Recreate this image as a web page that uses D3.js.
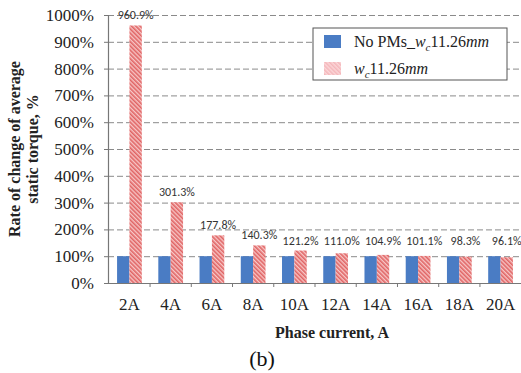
<!DOCTYPE html>
<html>
<head>
<meta charset="utf-8">
<script src="https://cdn.jsdelivr.net/npm/d3@7"></script>
<style>
  body { margin: 0; background: #fff; }
  svg { display: block; }
  .serif { font-family: "Liberation Serif", "DejaVu Serif", serif; }
  .sans { font-family: Carlito, "Open Sans", "Liberation Sans", sans-serif; }
</style>
</head>
<body>
<div class="container"></div>
<script>
// phase currents and the two series (percent)
const currents = ["2A", "4A", "6A", "8A", "10A", "12A", "14A", "16A", "18A", "20A"];
const noPMs = [100, 100, 100, 100, 100, 100, 100, 100, 100, 100];
const withPMs = [960.9, 301.3, 177.8, 140.3, 121.2, 111.0, 104.9, 101.1, 98.3, 96.1];
const yTicks = [0, 100, 200, 300, 400, 500, 600, 700, 800, 900, 1000];

const width = 521;
const height = 373;
const margin = { top: 15, right: -1, bottom: 90, left: 108 };

const svg = d3.select(".container")
    .append("svg")
    .attr("width", width)
    .attr("height", height);

const defs = svg.append("defs");
const hatch = defs.append("pattern")
    .attr("id", "hatch")
    .attr("patternUnits", "userSpaceOnUse")
    .attr("width", 3)
    .attr("height", 3)
    .attr("patternTransform", "rotate(-45)");
hatch.append("rect").attr("width", 3).attr("height", 3).attr("fill", "#f7c6c6");
hatch.append("rect").attr("width", 1.6).attr("height", 3).attr("fill", "#e06464");

const legendHatch = defs.append("pattern")
    .attr("id", "hatchLight")
    .attr("patternUnits", "userSpaceOnUse")
    .attr("width", 3)
    .attr("height", 3)
    .attr("patternTransform", "rotate(-45)");
legendHatch.append("rect").attr("width", 3).attr("height", 3).attr("fill", "#fbd6d8");
legendHatch.append("rect").attr("width", 1.5).attr("height", 3).attr("fill", "#f4b6ba");

const x = d3.scaleBand()
    .domain(currents)
    .range([margin.left, width - margin.right])
    .paddingInner(0.4)
    .paddingOuter(0.22);

const sub = d3.scaleBand()
    .domain(["no", "with"])
    .range([0, x.bandwidth()]);

const y = d3.scaleLinear()
    .domain([0, 1000])
    .range([height - margin.bottom, margin.top]);

// dashed gridlines
svg.append("g")
    .selectAll("line")
    .data(yTicks.slice(1))
    .enter()
    .append("line")
    .attr("x1", margin.left)
    .attr("x2", width)
    .attr("y1", (d) => y(d) + 0.5)
    .attr("y2", (d) => y(d) + 0.5)
    .attr("stroke", "#8a8a8a")
    .attr("stroke-width", 1)
    .attr("stroke-dasharray", "6,3");

// bars
const groups = svg.append("g")
    .selectAll("g")
    .data(currents)
    .enter()
    .append("g")
    .attr("transform", (d) => `translate(${x(d)},0)`);

groups.append("rect")
    .attr("x", sub("no"))
    .attr("y", (d, i) => y(noPMs[i]))
    .attr("width", sub.bandwidth())
    .attr("height", (d, i) => y(0) - y(noPMs[i]))
    .attr("fill", "#4a7cc4");

groups.append("rect")
    .attr("x", sub("with"))
    .attr("y", (d, i) => y(withPMs[i]))
    .attr("width", sub.bandwidth())
    .attr("height", (d, i) => y(0) - y(withPMs[i]))
    .attr("fill", "url(#hatch)");

// value labels above the hatched bars
groups.append("text")
    .attr("class", "sans")
    .attr("x", sub("with") + sub.bandwidth() / 2)
    .attr("y", (d, i) => Math.min(y(withPMs[i]), y(121.2)) - 6)
    .attr("text-anchor", "middle")
    .style("font-size", "12px")
    .attr("fill", "#333")
    .text((d, i) => withPMs[i].toFixed(1) + "%");

// axes
const yAxis = svg.append("g")
    .attr("transform", `translate(${margin.left},0)`)
    .call(d3.axisLeft(y).tickValues(yTicks).tickFormat((d) => d + "%").tickSize(4).tickPadding(10));

const xAxis = svg.append("g")
    .attr("transform", `translate(0,${y(0)})`)
    .call(d3.axisBottom(x).tickSize(0).tickPadding(15));

[yAxis, xAxis].forEach((ax) => {
    ax.attr("font-family", null).attr("font-size", null);
    ax.select(".domain").attr("stroke", "#777").attr("stroke-width", 1.2);
    ax.selectAll(".tick line").attr("stroke", "#777");
    ax.selectAll("text")
        .attr("class", "serif")
        .style("font-size", "17px")
        .attr("fill", "#222");
});

// small tick marks between categories
svg.append("g")
    .selectAll("line")
    .data(currents.slice(1))
    .enter()
    .append("line")
    .attr("x1", (d) => x(d) - x.step() * x.paddingInner() / 2)
    .attr("x2", (d) => x(d) - x.step() * x.paddingInner() / 2)
    .attr("y1", y(0))
    .attr("y2", y(0) + 4)
    .attr("stroke", "#777");

// axis titles
const yTitle = svg.append("text")
    .attr("class", "serif")
    .attr("transform", `translate(20,${(y(0) + y(1000)) / 2}) rotate(-90)`)
    .attr("text-anchor", "middle")
    .style("font-weight", "bold")
    .style("font-size", "16px")
    .attr("fill", "#222");
yTitle.append("tspan").attr("x", 0).attr("dy", 0).text("Rate of change of average");
yTitle.append("tspan").attr("x", 0).attr("dy", 18).text("static torque, %");

svg.append("text")
    .attr("class", "serif")
    .attr("x", 332)
    .attr("y", 338)
    .attr("text-anchor", "middle")
    .style("font-weight", "bold")
    .style("font-size", "16px")
    .attr("fill", "#222")
    .text("Phase current, A");

svg.append("text")
    .attr("class", "serif")
    .attr("x", 262)
    .attr("y", 366)
    .attr("text-anchor", "middle")
    .style("font-size", "22px")
    .attr("fill", "#111")
    .text("(b)");

// legend
const legend = svg.append("g").attr("transform", "translate(313,28)");
legend.append("rect")
    .attr("width", 194)
    .attr("height", 52)
    .attr("fill", "#fff")
    .attr("stroke", "#555")
    .attr("stroke-width", 1);

const legendItems = [
    { fill: "#4a7cc4", prefix: "No PMs_" },
    { fill: "url(#hatchLight)", prefix: "" },
];

legendItems.forEach((item, i) => {
    const row = legend.append("g").attr("transform", `translate(11,${7 + i * 27})`);
    row.append("rect")
        .attr("width", 17)
        .attr("height", 13)
        .attr("fill", item.fill);
    const t = row.append("text")
        .attr("class", "serif")
        .attr("x", 30)
        .attr("y", 12)
        .style("font-size", "16px")
        .attr("fill", "#222");
    if (item.prefix) t.append("tspan").text(item.prefix);
    t.append("tspan").style("font-style", "italic").text("w");
    t.append("tspan").style("font-style", "italic").style("font-size", "11px").attr("dy", 4).text("c");
    t.append("tspan").attr("dy", -4).text("11.26");
    t.append("tspan").style("font-style", "italic").text("mm");
});
</script>
</body>
</html>
